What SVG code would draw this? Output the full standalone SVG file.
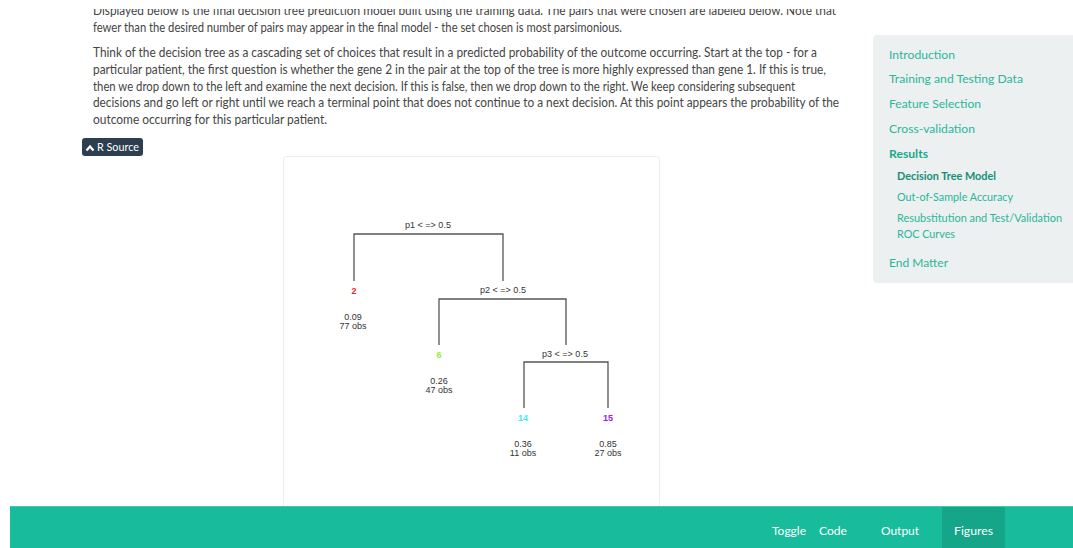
<svg xmlns="http://www.w3.org/2000/svg" width="1073" height="548" viewBox="0 0 1073 548">
  <style>
    .body { font-family: Lato, "Liberation Sans", sans-serif; font-size: 12.5px; fill: #454545; }
    .nav { font-family: Lato, "Liberation Sans", sans-serif; font-size: 12px; fill: #2ab69a; }
    .nav-sub { font-family: Lato, "Liberation Sans", sans-serif; font-size: 10.5px; fill: #2ab69a; }
    .nav-active { font-weight: bold; fill: #1aa88b; }
    .nav-current { font-weight: bold; fill: #168f77; }
    .foot { font-family: Lato, "Liberation Sans", sans-serif; font-size: 12px; fill: #ffffff; }
    .tree { font-family: "Liberation Sans", Arial, sans-serif; font-size: 9px; fill: #333333; text-anchor: middle; }
    .leafid { font-family: "Liberation Sans", Arial, sans-serif; font-size: 9px; font-weight: bold; text-anchor: middle; }
    .edge { fill: none; stroke: #555555; stroke-width: 1.3; }
  </style>
  <defs>
    <clipPath id="topClip">
      <rect x="0" y="9" width="870" height="30"/>
    </clipPath>
  </defs>

  <rect width="1073" height="548" fill="#ffffff"/>

  <!-- article text -->
  <g id="article-text">
    <text class="body" x="93" y="15" textLength="743" lengthAdjust="spacingAndGlyphs" clip-path="url(#topClip)">Displayed below is the final decision tree prediction model built using the training data. The pairs that were chosen are labeled below. Note that</text>
    <text class="body" x="93" y="32" textLength="529" lengthAdjust="spacingAndGlyphs">fewer than the desired number of pairs may appear in the final model - the set chosen is most parsimonious.</text>
    <text class="body" x="93" y="57" textLength="724" lengthAdjust="spacingAndGlyphs">Think of the decision tree as a cascading set of choices that result in a predicted probability of the outcome occurring. Start at the top - for a</text>
    <text class="body" x="93" y="74" textLength="733" lengthAdjust="spacingAndGlyphs">particular patient, the first question is whether the gene 2 in the pair at the top of the tree is more highly expressed than gene 1. If this is true,</text>
    <text class="body" x="93" y="91" textLength="702" lengthAdjust="spacingAndGlyphs">then we drop down to the left and examine the next decision. If this is false, then we drop down to the right. We keep considering subsequent</text>
    <text class="body" x="93" y="107" textLength="746" lengthAdjust="spacingAndGlyphs">decisions and go left or right until we reach a terminal point that does not continue to a next decision. At this point appears the probability of the</text>
    <text class="body" x="93" y="124" textLength="234" lengthAdjust="spacingAndGlyphs">outcome occurring for this particular patient.</text>
  </g>

  <!-- R Source button -->
  <g id="r-source-button">
    <rect x="82" y="138" width="61" height="18" rx="3" fill="#2c3e50"/>
    <path d="M86.5 150.5 L90 146.5 L93.5 150.5" fill="none" stroke="#ffffff" stroke-width="2.2"/>
    <text x="97" y="151" font-family="Lato, 'Liberation Sans', sans-serif" font-size="10.5" fill="#ffffff" textLength="42" lengthAdjust="spacingAndGlyphs">R Source</text>
  </g>

  <!-- figure frame -->
  <rect id="figure-frame" x="283.5" y="156.5" width="376" height="400" rx="3" fill="#ffffff" stroke="#ececec" stroke-width="1"/>

  <!-- tree branches -->
  <g id="connectors">
    <path class="edge" d="M354 281 V234 H503 V281"/>
    <path class="edge" d="M439 345 V299 H566 V345"/>
    <path class="edge" d="M524 408 V362 H608 V408"/>
  </g>

  <!-- tree nodes -->
  <g id="node-split-p1">
    <text class="tree" x="428" y="228">p1 &lt; =&gt; 0.5</text>
  </g>
  <g id="node-leaf-2">
    <text class="leafid" x="354" y="294" fill="#ff2020">2</text>
    <text class="tree" x="353" y="320">0.09</text>
    <text class="tree" x="353" y="329">77 obs</text>
  </g>
  <g id="node-split-p2">
    <text class="tree" x="503" y="293">p2 &lt; =&gt; 0.5</text>
  </g>
  <g id="node-leaf-6">
    <text class="leafid" x="439" y="358" fill="#94ee30">6</text>
    <text class="tree" x="439" y="384">0.26</text>
    <text class="tree" x="439" y="392.5">47 obs</text>
  </g>
  <g id="node-split-p3">
    <text class="tree" x="565" y="357">p3 &lt; =&gt; 0.5</text>
  </g>
  <g id="node-leaf-14">
    <text class="leafid" x="523" y="421" fill="#3fe6ff">14</text>
    <text class="tree" x="523" y="447">0.36</text>
    <text class="tree" x="523" y="455.5">11 obs</text>
  </g>
  <g id="node-leaf-15">
    <text class="leafid" x="608" y="421" fill="#8f1bff">15</text>
    <text class="tree" x="608" y="447">0.85</text>
    <text class="tree" x="608" y="455.5">27 obs</text>
  </g>

  <!-- table of contents -->
  <g id="toc">
    <rect x="873" y="35" width="210" height="248" rx="4" fill="#ecf0f1"/>
    <text class="nav" x="889" y="59" textLength="66" lengthAdjust="spacingAndGlyphs">Introduction</text>
    <text class="nav" x="889" y="83" textLength="134" lengthAdjust="spacingAndGlyphs">Training and Testing Data</text>
    <text class="nav" x="889" y="108" textLength="92" lengthAdjust="spacingAndGlyphs">Feature Selection</text>
    <text class="nav" x="889" y="133" textLength="86" lengthAdjust="spacingAndGlyphs">Cross-validation</text>
    <text class="nav nav-active" x="889" y="158" textLength="39" lengthAdjust="spacingAndGlyphs">Results</text>
    <text class="nav-sub nav-current" x="897" y="180" textLength="99" lengthAdjust="spacingAndGlyphs">Decision Tree Model</text>
    <text class="nav-sub" x="897" y="201" textLength="116" lengthAdjust="spacingAndGlyphs">Out-of-Sample Accuracy</text>
    <text class="nav-sub" x="897" y="222" textLength="165" lengthAdjust="spacingAndGlyphs">Resubstitution and Test/Validation</text>
    <text class="nav-sub" x="897" y="238" textLength="58" lengthAdjust="spacingAndGlyphs">ROC Curves</text>
    <text class="nav" x="889" y="267" textLength="59" lengthAdjust="spacingAndGlyphs">End Matter</text>
  </g>

  <!-- bottom navigation bar -->
  <g id="footer-bar">
    <rect x="10" y="506" width="1063" height="42" fill="#18bc9c"/>
    <rect x="10" y="506" width="1063" height="1" fill="#3fc9ad"/>
    <rect x="942" y="507" width="63" height="41" fill="#15a589"/>
    <text class="foot" x="772" y="535" textLength="34" lengthAdjust="spacingAndGlyphs">Toggle</text>
    <text class="foot" x="819" y="535" textLength="28" lengthAdjust="spacingAndGlyphs">Code</text>
    <text class="foot" x="881" y="535" textLength="38" lengthAdjust="spacingAndGlyphs">Output</text>
    <text class="foot" x="954" y="535" textLength="39" lengthAdjust="spacingAndGlyphs">Figures</text>
  </g>
</svg>
